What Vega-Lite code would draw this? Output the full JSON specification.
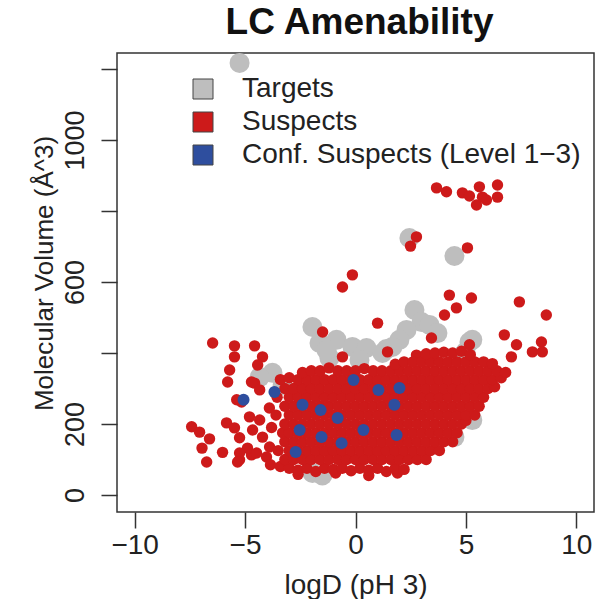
{
  "$schema": "https://vega.github.io/schema/vega-lite/v6.json",
  "width": 477,
  "height": 459,
  "autosize": "none",
  "padding": {"left": 117, "top": 53, "right": 9, "bottom": 87},
  "background": "white",
  "title": {"text": "LC Amenability", "fontSize": 37, "font": "Liberation Sans", "fontWeight": "bold", "color": "#111", "anchor": "middle", "baseline": "alphabetic", "offset": 16, "dy": 34, "dx": 4},
  "config": {"view": {"stroke": "#333", "strokeWidth": 1.5}},
  "data": {"values": [
    {"g":"T","x":-5.25,"y":1217},{"g":"T","x":2.44,"y":724},{"g":"T","x":4.48,"y":673},{"g":"T","x":-1.95,"y":473},
    {"g":"T","x":-0.86,"y":437},{"g":"T","x":-0.14,"y":417},{"g":"T","x":0.5,"y":414},{"g":"T","x":1.4,"y":411},
    {"g":"T","x":2.67,"y":521},{"g":"T","x":2.99,"y":487},{"g":"T","x":2.31,"y":465},{"g":"T","x":1.99,"y":437},
    {"g":"T","x":1.67,"y":417},{"g":"T","x":5.16,"y":431},{"g":"T","x":4.98,"y":403},{"g":"T","x":-3.76,"y":344},
    {"g":"T","x":-4.34,"y":332},{"g":"T","x":-1.63,"y":428},{"g":"T","x":-1.18,"y":386},{"g":"T","x":-1.31,"y":408},
    {"g":"T","x":0.18,"y":380},{"g":"T","x":-1.95,"y":62},{"g":"T","x":5.16,"y":248},{"g":"T","x":5.29,"y":211},
    {"g":"T","x":4.48,"y":163},{"g":"T","x":3.35,"y":479},{"g":"T","x":3.71,"y":456},{"g":"T","x":1.22,"y":400},
    {"g":"T","x":-3.3,"y":310},{"g":"T","x":5.29,"y":437},{"g":"T","x":-1.5,"y":55},
    {"g":"S","x":3.67,"y":865},{"g":"S","x":4.12,"y":854},{"g":"S","x":4.84,"y":851},{"g":"S","x":5.16,"y":842},
    {"g":"S","x":5.48,"y":817},{"g":"S","x":5.61,"y":868},{"g":"S","x":5.75,"y":839},{"g":"S","x":5.93,"y":831},
    {"g":"S","x":6.43,"y":873},{"g":"S","x":6.43,"y":839},{"g":"S","x":5.07,"y":696},{"g":"S","x":2.76,"y":727},
    {"g":"S","x":2.49,"y":701},{"g":"S","x":-0.14,"y":620},{"g":"S","x":-0.59,"y":586},{"g":"S","x":4.25,"y":563},
    {"g":"S","x":5.25,"y":555},{"g":"S","x":4.57,"y":527},{"g":"S","x":4.03,"y":507},{"g":"S","x":7.42,"y":544},
    {"g":"S","x":8.64,"y":507},{"g":"S","x":1.0,"y":484},{"g":"S","x":-1.49,"y":459},{"g":"S","x":3.44,"y":442},
    {"g":"S","x":6.74,"y":451},{"g":"S","x":7.29,"y":423},{"g":"S","x":8.42,"y":431},{"g":"S","x":8.01,"y":403},
    {"g":"S","x":8.46,"y":403},{"g":"S","x":7.06,"y":389},{"g":"S","x":5.16,"y":423},{"g":"S","x":-6.47,"y":428},
    {"g":"S","x":-5.48,"y":420},{"g":"S","x":-4.57,"y":420},{"g":"S","x":-5.48,"y":389},{"g":"S","x":-4.21,"y":389},
    {"g":"S","x":-4.43,"y":366},{"g":"S","x":-5.7,"y":352},{"g":"S","x":-5.79,"y":318},{"g":"S","x":-4.57,"y":315},
    {"g":"S","x":-0.59,"y":389},{"g":"S","x":1.45,"y":403},{"g":"S","x":2.76,"y":394},
    {"g":"S","x":-7.42,"y":192},{"g":"S","x":-7.06,"y":177},{"g":"S","x":-6.61,"y":158},{"g":"S","x":-6.95,"y":132},
    {"g":"S","x":-6.74,"y":93},{"g":"S","x":-5.84,"y":203},{"g":"S","x":-5.48,"y":189},{"g":"S","x":-6.02,"y":120},
    {"g":"S","x":-5.25,"y":99},{"g":"S","x":-4.71,"y":113},{"g":"S","x":-5.16,"y":262},{"g":"S","x":-5.25,"y":161},
    {"g":"S","x":-4.8,"y":220},{"g":"S","x":-4.66,"y":183},{"g":"S","x":-4.34,"y":211},{"g":"S","x":-4.21,"y":163},
    {"g":"S","x":-4.89,"y":132},{"g":"S","x":-5.25,"y":118},{"g":"S","x":-4.48,"y":118},{"g":"S","x":-4.03,"y":107},
    {"g":"S","x":-3.89,"y":135},{"g":"S","x":-5.38,"y":268},{"g":"S","x":-4.71,"y":318},{"g":"S","x":-4.34,"y":296},
    {"g":"S","x":-5.34,"y":93},{"g":"S","x":-3.9,"y":245},{"g":"S","x":-3.8,"y":190},{"g":"S","x":-3.85,"y":85},
    {"g":"S","x":-2.6,"y":58},{"g":"S","x":-0.9,"y":62},{"g":"S","x":0.6,"y":55},{"g":"S","x":1.9,"y":62},
    {"g":"S","x":-3.4,"y":80},{"g":"S","x":-3.0,"y":75},{"g":"S","x":-2.6,"y":70},{"g":"S","x":-2.2,"y":75},{"g":"S","x":-1.8,"y":66},{"g":"S","x":-1.4,"y":75},{"g":"S","x":-1.0,"y":72},{"g":"S","x":-0.6,"y":75},{"g":"S","x":-0.2,"y":68},{"g":"S","x":0.2,"y":75},{"g":"S","x":0.6,"y":70},{"g":"S","x":1.0,"y":75},{"g":"S","x":1.4,"y":66},{"g":"S","x":1.8,"y":75},{"g":"S","x":2.2,"y":72},
    {"g":"S","x":-3.2,"y":100},{"g":"S","x":-2.8,"y":100},{"g":"S","x":-2.4,"y":100},{"g":"S","x":-2.0,"y":100},{"g":"S","x":-1.6,"y":100},{"g":"S","x":-1.2,"y":100},{"g":"S","x":-0.8,"y":100},{"g":"S","x":-0.4,"y":100},{"g":"S","x":0,"y":100},{"g":"S","x":0.4,"y":100},{"g":"S","x":0.8,"y":100},{"g":"S","x":1.2,"y":100},{"g":"S","x":1.6,"y":100},{"g":"S","x":2.0,"y":100},{"g":"S","x":2.4,"y":100},{"g":"S","x":2.8,"y":100},{"g":"S","x":3.2,"y":100},
    {"g":"S","x":-3.5,"y":125},{"g":"S","x":-3.0,"y":125},{"g":"S","x":-2.6,"y":125},{"g":"S","x":-2.2,"y":125},{"g":"S","x":-1.8,"y":125},{"g":"S","x":-1.4,"y":125},{"g":"S","x":-1.0,"y":125},{"g":"S","x":-0.6,"y":125},{"g":"S","x":-0.2,"y":125},{"g":"S","x":0.2,"y":125},{"g":"S","x":0.6,"y":125},{"g":"S","x":1.0,"y":125},{"g":"S","x":1.4,"y":125},{"g":"S","x":1.8,"y":125},{"g":"S","x":2.2,"y":125},{"g":"S","x":2.6,"y":125},{"g":"S","x":3.0,"y":125},{"g":"S","x":3.4,"y":125},{"g":"S","x":3.8,"y":125},
    {"g":"S","x":-3.2,"y":150},{"g":"S","x":-2.8,"y":150},{"g":"S","x":-2.4,"y":150},{"g":"S","x":-2.0,"y":150},{"g":"S","x":-1.6,"y":150},{"g":"S","x":-1.2,"y":150},{"g":"S","x":-0.8,"y":150},{"g":"S","x":-0.4,"y":150},{"g":"S","x":0,"y":150},{"g":"S","x":0.4,"y":150},{"g":"S","x":0.8,"y":150},{"g":"S","x":1.2,"y":150},{"g":"S","x":1.6,"y":150},{"g":"S","x":2.0,"y":150},{"g":"S","x":2.4,"y":150},{"g":"S","x":2.8,"y":150},{"g":"S","x":3.2,"y":150},{"g":"S","x":3.6,"y":150},{"g":"S","x":4.0,"y":150},{"g":"S","x":4.4,"y":150},
    {"g":"S","x":-3.3,"y":175},{"g":"S","x":-3.0,"y":175},{"g":"S","x":-2.6,"y":175},{"g":"S","x":-2.2,"y":175},{"g":"S","x":-1.8,"y":175},{"g":"S","x":-1.4,"y":175},{"g":"S","x":-1.0,"y":175},{"g":"S","x":-0.6,"y":175},{"g":"S","x":-0.2,"y":175},{"g":"S","x":0.2,"y":175},{"g":"S","x":0.6,"y":175},{"g":"S","x":1.0,"y":175},{"g":"S","x":1.4,"y":175},{"g":"S","x":1.8,"y":175},{"g":"S","x":2.2,"y":175},{"g":"S","x":2.6,"y":175},{"g":"S","x":3.0,"y":175},{"g":"S","x":3.4,"y":175},{"g":"S","x":3.8,"y":175},{"g":"S","x":4.2,"y":175},{"g":"S","x":4.6,"y":175},
    {"g":"S","x":-3.2,"y":200},{"g":"S","x":-2.8,"y":200},{"g":"S","x":-2.4,"y":200},{"g":"S","x":-2.0,"y":200},{"g":"S","x":-1.6,"y":200},{"g":"S","x":-1.2,"y":200},{"g":"S","x":-0.8,"y":200},{"g":"S","x":-0.4,"y":200},{"g":"S","x":0,"y":200},{"g":"S","x":0.4,"y":200},{"g":"S","x":0.8,"y":200},{"g":"S","x":1.2,"y":200},{"g":"S","x":1.6,"y":200},{"g":"S","x":2.0,"y":200},{"g":"S","x":2.4,"y":200},{"g":"S","x":2.8,"y":200},{"g":"S","x":3.2,"y":200},{"g":"S","x":3.6,"y":200},{"g":"S","x":4.0,"y":200},{"g":"S","x":4.4,"y":200},{"g":"S","x":4.8,"y":200},{"g":"S","x":5.0,"y":210},
    {"g":"S","x":-3.6,"y":225},{"g":"S","x":-3.0,"y":225},{"g":"S","x":-2.6,"y":225},{"g":"S","x":-2.2,"y":225},{"g":"S","x":-1.8,"y":225},{"g":"S","x":-1.4,"y":225},{"g":"S","x":-1.0,"y":225},{"g":"S","x":-0.6,"y":225},{"g":"S","x":-0.2,"y":225},{"g":"S","x":0.2,"y":225},{"g":"S","x":0.6,"y":225},{"g":"S","x":1.0,"y":225},{"g":"S","x":1.4,"y":225},{"g":"S","x":1.8,"y":225},{"g":"S","x":2.2,"y":225},{"g":"S","x":2.6,"y":225},{"g":"S","x":3.0,"y":225},{"g":"S","x":3.4,"y":225},{"g":"S","x":3.8,"y":225},{"g":"S","x":4.2,"y":225},{"g":"S","x":4.6,"y":225},{"g":"S","x":5.0,"y":225},{"g":"S","x":5.4,"y":225},
    {"g":"S","x":-3.2,"y":250},{"g":"S","x":-2.8,"y":250},{"g":"S","x":-2.4,"y":250},{"g":"S","x":-2.0,"y":250},{"g":"S","x":-1.6,"y":250},{"g":"S","x":-1.2,"y":250},{"g":"S","x":-0.8,"y":250},{"g":"S","x":-0.4,"y":250},{"g":"S","x":0,"y":250},{"g":"S","x":0.4,"y":250},{"g":"S","x":0.8,"y":250},{"g":"S","x":1.2,"y":250},{"g":"S","x":1.6,"y":250},{"g":"S","x":2.0,"y":250},{"g":"S","x":2.4,"y":250},{"g":"S","x":2.8,"y":250},{"g":"S","x":3.2,"y":250},{"g":"S","x":3.6,"y":250},{"g":"S","x":4.0,"y":250},{"g":"S","x":4.4,"y":250},{"g":"S","x":4.8,"y":250},{"g":"S","x":5.2,"y":250},{"g":"S","x":5.6,"y":250},
    {"g":"S","x":-3.55,"y":275},{"g":"S","x":-3.0,"y":275},{"g":"S","x":-2.6,"y":275},{"g":"S","x":-2.2,"y":275},{"g":"S","x":-1.8,"y":275},{"g":"S","x":-1.4,"y":275},{"g":"S","x":-1.0,"y":275},{"g":"S","x":-0.6,"y":275},{"g":"S","x":-0.2,"y":275},{"g":"S","x":0.2,"y":275},{"g":"S","x":0.6,"y":275},{"g":"S","x":1.0,"y":275},{"g":"S","x":1.4,"y":275},{"g":"S","x":1.8,"y":275},{"g":"S","x":2.2,"y":275},{"g":"S","x":2.6,"y":275},{"g":"S","x":3.0,"y":275},{"g":"S","x":3.4,"y":275},{"g":"S","x":3.8,"y":275},{"g":"S","x":4.2,"y":275},{"g":"S","x":4.6,"y":275},{"g":"S","x":5.0,"y":275},{"g":"S","x":5.4,"y":275},{"g":"S","x":5.8,"y":275},
    {"g":"S","x":-3.2,"y":300},{"g":"S","x":-2.8,"y":300},{"g":"S","x":-2.4,"y":300},{"g":"S","x":-2.0,"y":300},{"g":"S","x":-1.6,"y":300},{"g":"S","x":-1.2,"y":300},{"g":"S","x":-0.8,"y":300},{"g":"S","x":-0.4,"y":300},{"g":"S","x":0,"y":300},{"g":"S","x":0.4,"y":300},{"g":"S","x":0.8,"y":300},{"g":"S","x":1.2,"y":300},{"g":"S","x":1.6,"y":300},{"g":"S","x":2.0,"y":300},{"g":"S","x":2.4,"y":300},{"g":"S","x":2.8,"y":300},{"g":"S","x":3.2,"y":300},{"g":"S","x":3.6,"y":300},{"g":"S","x":4.0,"y":300},{"g":"S","x":4.4,"y":300},{"g":"S","x":4.8,"y":300},{"g":"S","x":5.2,"y":300},{"g":"S","x":5.6,"y":300},{"g":"S","x":6.0,"y":300},{"g":"S","x":6.3,"y":305},
    {"g":"S","x":-3.4,"y":325},{"g":"S","x":-3.0,"y":330},{"g":"S","x":-2.6,"y":325},{"g":"S","x":-2.2,"y":325},{"g":"S","x":-1.8,"y":325},{"g":"S","x":-1.4,"y":325},{"g":"S","x":-1.0,"y":325},{"g":"S","x":-0.6,"y":325},{"g":"S","x":-0.2,"y":325},{"g":"S","x":0.2,"y":325},{"g":"S","x":0.6,"y":325},{"g":"S","x":1.0,"y":325},{"g":"S","x":1.4,"y":325},{"g":"S","x":1.8,"y":325},{"g":"S","x":2.2,"y":325},{"g":"S","x":2.6,"y":325},{"g":"S","x":3.0,"y":325},{"g":"S","x":3.4,"y":325},{"g":"S","x":3.8,"y":325},{"g":"S","x":4.2,"y":325},{"g":"S","x":4.6,"y":325},{"g":"S","x":5.0,"y":325},{"g":"S","x":5.4,"y":325},{"g":"S","x":5.8,"y":325},{"g":"S","x":6.2,"y":325},{"g":"S","x":6.6,"y":330},
    {"g":"S","x":-2.4,"y":345},{"g":"S","x":-2.0,"y":350},{"g":"S","x":-1.6,"y":350},{"g":"S","x":-1.2,"y":358},{"g":"S","x":-0.8,"y":350},{"g":"S","x":-0.4,"y":350},{"g":"S","x":0,"y":350},{"g":"S","x":0.4,"y":356},{"g":"S","x":0.8,"y":350},{"g":"S","x":1.2,"y":350},{"g":"S","x":1.6,"y":350},{"g":"S","x":2.0,"y":350},{"g":"S","x":2.4,"y":350},{"g":"S","x":2.8,"y":350},{"g":"S","x":3.2,"y":350},{"g":"S","x":3.6,"y":350},{"g":"S","x":4.0,"y":350},{"g":"S","x":4.4,"y":350},{"g":"S","x":4.8,"y":350},{"g":"S","x":5.2,"y":350},{"g":"S","x":5.6,"y":350},{"g":"S","x":6.0,"y":350},{"g":"S","x":6.4,"y":350},{"g":"S","x":6.8,"y":345},
    {"g":"S","x":1.8,"y":368},{"g":"S","x":2.2,"y":375},{"g":"S","x":2.6,"y":375},{"g":"S","x":3.0,"y":375},{"g":"S","x":3.4,"y":375},{"g":"S","x":3.8,"y":375},{"g":"S","x":4.2,"y":375},{"g":"S","x":4.6,"y":375},{"g":"S","x":5.0,"y":375},{"g":"S","x":5.4,"y":375},{"g":"S","x":5.8,"y":375},{"g":"S","x":6.2,"y":370},
    {"g":"S","x":3.2,"y":398},{"g":"S","x":3.6,"y":400},{"g":"S","x":4.0,"y":402},{"g":"S","x":4.4,"y":400},{"g":"S","x":4.8,"y":405},{"g":"S","x":5.2,"y":395},
    {"g":"C","x":-5.07,"y":268},{"g":"C","x":-3.67,"y":290},{"g":"C","x":-2.4,"y":254},{"g":"C","x":-2.53,"y":183},
    {"g":"C","x":-2.71,"y":121},{"g":"C","x":-1.58,"y":239},{"g":"C","x":-1.54,"y":163},{"g":"C","x":-0.81,"y":217},
    {"g":"C","x":-0.63,"y":146},{"g":"C","x":-0.09,"y":324},{"g":"C","x":0.36,"y":183},{"g":"C","x":1.04,"y":296},
    {"g":"C","x":1.99,"y":301},{"g":"C","x":1.76,"y":254},{"g":"C","x":1.86,"y":169}
  ]},
  "encoding": {
    "x": {"field": "x", "type": "quantitative",
      "scale": {"domain": [-10.8, 10.8], "nice": false, "zero": false},
      "axis": {"values": [-10, -5, 0, 5, 10], "domain": false, "grid": false, "tickSize": 16, "tickWidth": 1.5, "tickColor": "#333",
        "labelFontSize": 28, "labelFont": "Liberation Sans", "labelColor": "#222", "labelPadding": 3, "labelFlush": false, "labelOverlap": false,
        "title": "logD (pH 3)", "titleFont": "Liberation Sans", "titleFontSize": 28, "titleFontWeight": "normal", "titleColor": "#222",
        "titleBaseline": "alphabetic", "titleY": 81}},
    "y": {"field": "y", "type": "quantitative",
      "scale": {"domain": [-48, 1245], "nice": false, "zero": false},
      "axis": {"values": [0, 200, 400, 600, 800, 1000, 1200], "format": "d", "domain": false, "grid": false, "tickSize": 16, "tickWidth": 1.5, "tickColor": "#333",
        "labelExpr": "datum.value == 400 || datum.value == 800 || datum.value == 1200 ? '' : datum.label",
        "labelAngle": 270, "labelAlign": "center", "labelBaseline": "alphabetic",
        "labelFontSize": 27, "labelFont": "Liberation Sans", "labelColor": "#222", "labelPadding": 18, "labelFlush": false, "labelOverlap": false,
        "title": "Molecular Volume (Å^3)", "titleFont": "Liberation Sans", "titleFontSize": 26, "titleFontWeight": "normal", "titleColor": "#222",
        "titleAngle": 270, "titleAlign": "center", "titleBaseline": "alphabetic", "titleX": -65, "titleY": 220}},
    "color": {"field": "g", "type": "nominal",
      "scale": {"domain": ["T", "S", "C"], "range": ["#BEBEBE", "#CD1A1A", "#2E4E9E"]},
      "legend": {"orient": "none", "legendX": 72, "legendY": 22, "title": null, "symbolType": "square", "symbolSize": 400,
        "symbolStrokeColor": "#444", "symbolStrokeWidth": 1, "symbolOpacity": 1, "labelLimit": 500,
        "labelFont": "Liberation Sans", "labelFontSize": 28, "labelColor": "#222", "labelOffset": 25, "rowPadding": 5, "padding": 0,
        "labelExpr": "datum.label == 'T' ? 'Targets' : datum.label == 'S' ? 'Suspects' : 'Conf. Suspects (Level 1\u22123)'"}}
  },
  "layer": [
    {"transform": [{"filter": "datum.g == 'T'"}], "mark": {"type": "circle", "opacity": 1, "size": 400}},
    {"transform": [{"filter": "datum.g == 'S'"}], "mark": {"type": "circle", "opacity": 1, "size": 130}},
    {"transform": [{"filter": "datum.g == 'C'"}], "mark": {"type": "circle", "opacity": 1, "size": 144}}
  ]
}
